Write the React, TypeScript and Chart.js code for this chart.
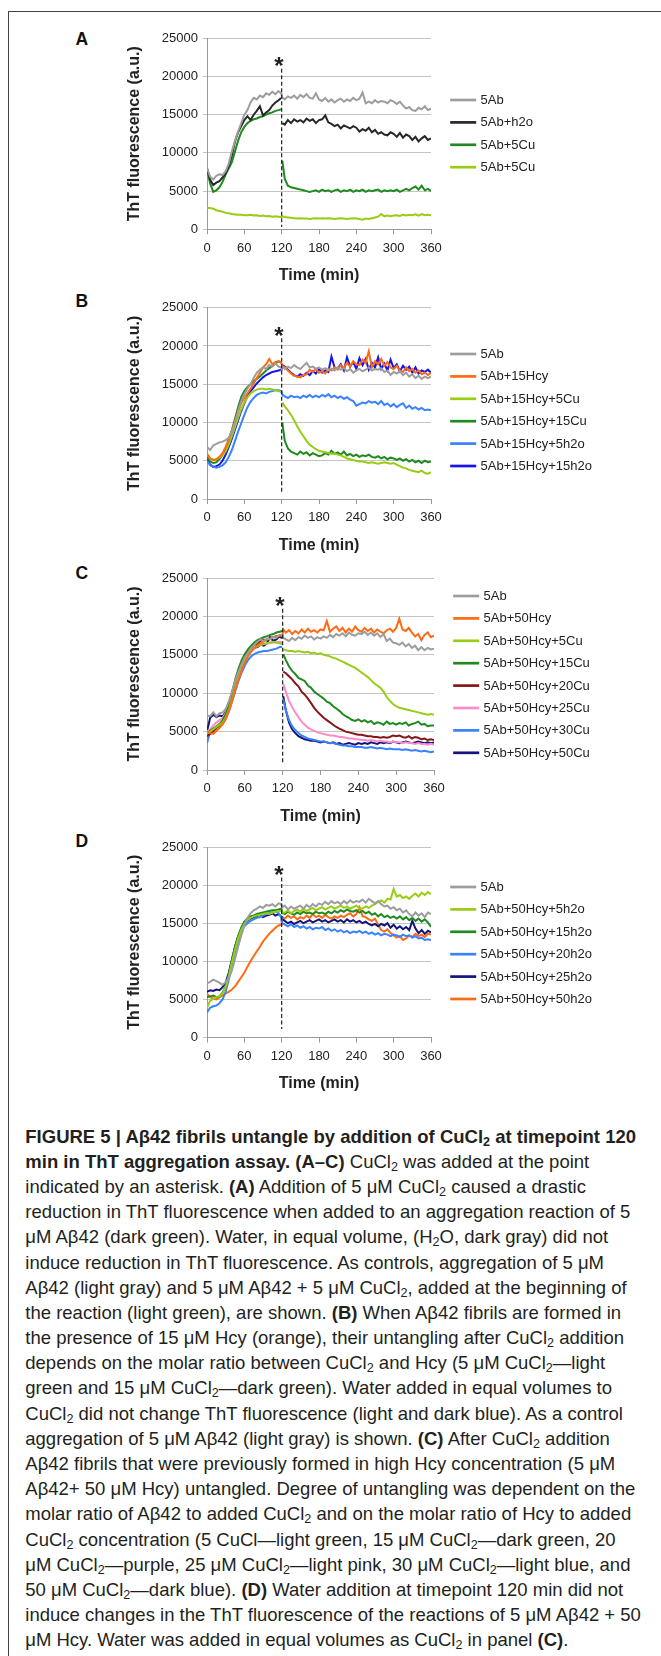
import React, { useEffect, useRef } from "react";
import { Chart, registerables } from "chart.js";

Chart.register(...registerables);

const FONT = "'Liberation Sans', Arial, Helvetica, sans-serif";
Chart.defaults.font.family = FONT;

// ---------- data ----------
const TIME = [0, 5, 10, 15, 20, 25, 30, 35, 40, 45, 50, 55, 60, 65, 70, 75, 80, 85, 90, 95, 100, 105, 110, 115,
  119, 120, 121,
  125, 130, 135, 140, 145, 150, 155, 160, 165, 170, 175, 180,
  185, 190, 195, 200, 205, 210, 215, 220, 225, 230, 235, 240,
  245, 250, 255, 260, 265, 270, 275, 280, 285, 290, 295, 300,
  305, 310, 315, 320, 325, 330, 335, 340, 345, 350, 355, 360];

const X_TICKS = [0, 60, 120, 180, 240, 300, 360];
const X_TICK_LABELS = ["0", "60", "120", "180", "240", "300", "360"];
const Y_TICKS = [0, 5000, 10000, 15000, 20000, 25000];
const Y_TICK_LABELS = ["0", "5000", "10000", "15000", "20000", "25000"];
const ADD_TIME = 120;
const STAR_VALUE = 22000;
const DASH_TOP = 21000;

// Panel A
const A_5AB = [8000, 6900, 6500, 7000, 7200, 7100, 7600, 8600, 10200, 11600, 12800, 13900, 15000, 15600, 16600, 17200, 17000, 17500, 17300, 17800, 17600, 18000, 17700, 18100,
  17800, 17600, 17300,
  17000, 17400, 17200, 17500, 17100, 17600, 17300, 17700, 17200, 17100, 17800, 17000,
  16800, 17200, 16700, 17000, 16600, 16900, 17100, 16700, 17000, 16800, 17200, 16900,
  17100, 17900, 16500, 16700, 16500, 16900, 16600, 16800, 16700, 16500, 16900, 16700,
  16400, 16700, 16200, 15800, 16000, 15600, 15500, 15900, 15700, 16100, 15600, 15800];
const A_H2O = [8000, 6500, 5800, 6100, 6300, 6800, 7300, 8300, 9700, 11500, 12700, 13500, 14300, 14800, 14300, 15000, 15500, 16100, 14900, 15300, 15600, 16200, 16600, 16900,
  17200, null, 13900,
  13700, 14300, 13900, 14400, 14100, 14300, 14000, 14500, 14200, 14400, 13900, 14300,
  14400, 14900, 14000, 13800, 13500, 13700, 13200, 13600, 13400, 13200, 13500, 13300,
  12800, 13100, 12900, 13300, 12700, 13000, 12500, 12700, 12400, 12300, 12700, 12500,
  12100, 12600, 12000, 12400, 12200, 11700, 12100, 11500, 11900, 12200, 11700, 11900];
const A_5CU = [7900, 6000, 4900, 5100, 5500, 6200, 7200, 8000, 8800, 10200, 11600, 12700, 13400, 13900, 14200, 14400, 14500, 14700, 14800, 15000, 15200, 15300, 15500, 15600,
  15700, null, 9000,
  6600, 5700, 5500, 5400, 5300, 5200, 5100, 5000, 4900, 5000, 5100, 4900,
  5200, 5000, 5100, 4900, 5100, 5200, 4900, 5100, 5000, 5200, 4900, 5100,
  5000, 5200, 4900, 5100, 5000, 5100, 5200, 4900, 5100, 5000, 5100, 5000,
  5200, 4900, 5100, 5300, 5100, 5400, 5600, 5200, 5700, 5100, 5300, 5000];
const A_5CU_START = [2800, 2800, 2700, 2500, 2400, 2300, 2150, 2100, 2000, 1950, 1900, 1900, 1850, 1850, 1900, 1800, 1850, 1750, 1800, 1700, 1750, 1650, 1700, 1650,
  1600, 1650, 1700,
  1600, 1550, 1500, 1450, 1400, 1450, 1400, 1400, 1350, 1400, 1450, 1400,
  1450, 1400, 1450, 1400, 1350, 1400, 1450, 1400, 1350, 1400, 1450, 1400,
  1350, 1250, 1400, 1350, 1450, 1550, 1650, 2000, 1700, 1800, 1700, 1800,
  1850, 1750, 1900, 1800, 1900, 1850, 1950, 1800, 2000, 1850, 1900, 1850];

// Panel B
const B_5AB = [6800, 6400, 7000, 7200, 7400, 7500, 7700, 8000, 8800, 10000, 11500, 12800, 13700, 14400, 15000, 15800, 16500, 16900, 17200, 17000, 17500, 17300, 17700, 17300,
  17200, 17100, 17300,
  17000, 17300, 17100, 17500, 17200, 17000, 17400, 17800, 17200, 17300, 17000, 17200,
  16900, 17100, 16800, 17000, 16800, 17200, 16900, 17100, 16700, 17000, 16500, 16800,
  17000, 16700, 16900, 17200, 16800, 17000, 16900, 17100, 16600, 16800, 16200, 16600,
  16400, 16700, 16200, 16500, 16000, 16300, 15800, 16100, 15700, 16000, 15800, 16000];
const B_15HCY = [5900, 5300, 5100, 5200, 5500, 6000, 6800, 7800, 8900, 10200, 11400, 12500, 13200, 13800, 14400, 15100, 15800, 16500, 17200, 17600, 18300, 17600, 17900, 18000,
  17800, 17600, 17400,
  17200, 16800, 16400, 16100, 16000, 15900, 16200, 16300, 16900, 16600, 17000, 16500,
  16700, 16400, 17000, 16800, 17200, 16900, 17500, 17100, 17800, 17300, 18000, 17600,
  17500, 18200, 17800, 19300, 17200, 18000, 17600, 18300, 17400, 17900, 17200, 17000,
  17400, 16800, 16600, 17200, 16700, 17000, 16500, 16800, 16300, 16500, 16200, 16500];
const B_5CU = [5900, 5300, 5100, 5200, 5400, 5700, 6200, 7100, 8200, 9400, 10600, 11700, 12600, 13300, 13800, 14100, 14300, 14400, 14400, 14300, 14400, 14300, 14200, 14100,
  14000, null, 12600,
  12100, 11600, 11000, 10300, 9500, 8800, 8200, 7600, 7100, 6800, 6500, 6300,
  6200, 6100, 6000, 5900, 5900, 5800, 5700, 5500, 5300, 5200, 5100, 5000,
  4900, 4900, 4800, 4700, 4800, 4700, 4600, 4700, 4800, 4700, 4600, 4700,
  4500, 4300, 4100, 4000, 3800, 3700, 3600, 3500, 3700, 3400, 3300, 3500];
const B_15CU = [5500, 4900, 4700, 4800, 5200, 5800, 6600, 7800, 9000, 10500, 12000, 13300, 14100, 14600, 15000, 15400, 15700, 16000, 16400, 16800, 17100, 17400, 17700, 18000,
  17900, null, 10000,
  7600, 6600, 6200, 6000, 5800, 6200, 5900, 6100, 5700, 6000, 5800, 5600,
  5700, 6000, 5800, 6300, 5900, 6100, 5800, 6200, 5700, 5900, 5600, 5800,
  5500, 5700, 5600, 5800, 5500, 5400, 5600, 5300, 5500, 5200, 5400, 5300,
  5100, 5300, 5000, 5200, 4900, 5100, 4800, 5000, 4700, 5000, 4800, 4900];
const B_5H2O = [5000, 4400, 4200, 4100, 4200, 4400, 4800, 5500, 6400, 7600, 8800, 9900, 11000, 12000, 12700, 13200, 13600, 13800, 13900, 13800, 14000, 14100, 14200, 14200,
  14100, 13900, 13700,
  13400, 13200, 13500, 13300, 13400, 13200, 13500, 13300, 13600, 13300, 13500, 13300,
  13600, 13400, 13700, 13300, 13500, 13200, 13400, 13100, 13300, 13000, 12800, 12200,
  12400, 12600, 12500, 12800, 12600, 12700, 12400, 12800, 12300, 12500, 12100, 12400,
  12000, 12300, 12500, 11900, 12200, 11800, 12000, 11700, 11900, 11600, 11700, 11600];
const B_15H2O = [5400, 4500, 4200, 4300, 4500, 5000, 5800, 6800, 7900, 9100, 10300, 11500, 12500, 13400, 14100, 14600, 15100, 15500, 15900, 16200, 16400, 16600, 16700, 16800,
  16900, 17200, 17500,
  17300, 16900, 16500, 16200, 16000, 16300, 16100, 16500, 16200, 16700, 16400, 17000,
  16500, 16800, 16600, 18600, 17200, 17000, 17600, 16800, 18500, 17300, 17900, 17000,
  18400, 17500, 18300, 16900, 17800, 17200, 18500, 17000, 17700, 16800, 18200, 17100,
  17600, 16700, 17400, 16900, 17300, 16500, 17200, 16400, 16800, 16600, 16900, 16500];

// Panel C
const C_5AB = [7100, 7000, 7500, 7000, 7400, 7500, 8000, 9000, 10300, 11600, 12800, 13800, 14700, 15300, 15900, 16300, 16700, 17000, 16800, 17100, 17000, 17300, 17200, 17600,
  17500, 17400, 17200,
  17000, 16800, 17200, 16900, 17300, 17100, 17500, 17200, 17400, 17000, 17300, 17100,
  17400, 17200, 17600, 17300, 17700, 17500, 17800, 17400, 17900, 17600, 17500, 17800,
  17700, 18000, 17600, 17900, 17500, 17800, 17300, 17700, 16800, 17100, 16600, 16500,
  16300, 16600, 16100, 16400, 15900, 16200, 15600, 16000, 15600, 15900, 15700, 15800];
const C_50HCY = [5000, 4800, 4700, 5100, 5500, 6000, 6700, 7800, 9000, 10500, 11800, 13000, 14000, 14800, 15400, 15900, 16200, 16500, 16700, 17000, 17100, 17300, 17400, 17500,
  17600, 17800, 18300,
  17900, 18200, 17700, 18100, 17800, 18300, 17900, 18400, 18000, 18200, 17900, 18300,
  18200, 19400, 18000, 18400, 18700, 18100, 18500, 17900, 18400, 18000, 18700, 18200,
  18000, 18500, 18100, 18400, 17900, 18300, 18000, 17800, 18200, 18400, 18000, 18500,
  19700, 18300, 18100, 18500, 17900, 17400, 17700, 16900, 17600, 17900, 17300, 17500];
const C_5CU = [4800, 5000, 5300, 5600, 5900, 6200, 6900, 8000, 9300, 10800, 12200, 13400, 14400, 15100, 15600, 15900, 16100, 16300, 16400, 16500, 16600, 16700, 16600, 16500,
  16400, null, 15700,
  15600, 15500, 15500, 15400, 15500, 15400, 15300, 15400, 15200, 15300, 15100, 15200,
  15000, 14900, 14800, 14600, 14500, 14300, 14100, 13900, 13700, 13500, 13300, 13000,
  12700, 12400, 12100, 11700, 11300, 11000, 10700, 10200, 9500, 9000, 8600, 8300,
  8100, 8000, 7900, 7800, 7700, 7600, 7500, 7400, 7300, 7200, 7300, 7200];
const C_15CU = [4800, 5100, 5400, 5700, 6000, 6500, 7300, 8700, 10200, 11800, 13200, 14300, 15100, 15700, 16200, 16600, 16900, 17100, 17300, 17400, 17600, 17700, 17900, 18000,
  18100, null, 15100,
  14300, 13500, 12900, 12500, 12000, 11800, 11600, 11000, 10700, 10200, 9900, 9600,
  9300, 8900, 8700, 8300, 8000, 7700, 7300, 7000, 6800, 6500, 6400, 6600,
  6300, 6500, 6200, 6400, 6000, 6200, 6100, 5900, 6300, 6000, 6100, 5900,
  6100, 6000, 6200, 5800, 6000, 6100, 6300, 5900, 6000, 5700, 5800, 5800];
const C_20CU = [4400, 4700, 5000, 5500, 5800, 6200, 7000, 8300, 9800, 11400, 12800, 13900, 14800, 15400, 15900, 16300, 16500, 16800, 17000, 16900, 17200, 17300, 17400, 17300,
  17200, null, 12800,
  12600, 12200, 11800, 11300, 10900, 10200, 9800, 9300, 8700, 8100, 7600, 7200,
  6800, 6500, 6200, 5900, 5600, 5400, 5200, 5000, 4900, 4800, 4700, 4600,
  4600, 4500, 4400, 4400, 4300, 4300, 4200, 4300, 4200, 4300, 4500, 4400,
  4500, 4300, 4200, 4400, 4100, 4300, 4200, 4000, 4100, 3900, 4000, 3900];
const C_25CU = [5000, 5300, 5800, 6200, 6500, 6800, 7500, 8800, 10200, 11700, 13000, 14000, 14800, 15300, 15700, 16000, 16200, 16300, 16400, 16500, 16500, 16600, 16600, 16700,
  16600, null, 11200,
  10200, 9000, 8200, 7500, 6900, 6300, 5900, 5500, 5300, 5100, 4900, 4800,
  4700, 4600, 4500, 4500, 4400, 4300, 4300, 4200, 4100, 4100, 4000, 4000,
  3900, 3900, 3800, 3900, 3800, 3700, 3800, 3700, 3700, 3600, 3700, 3600,
  3600, 3500, 3600, 3500, 3500, 3400, 3500, 3400, 3400, 3300, 3400, 3300];
const C_30CU = [3500, 5000, 5300, 5500, 5700, 6000, 6700, 7700, 9000, 10300, 11600, 12700, 13600, 14300, 14800, 15100, 15300, 15400, 15500, 15500, 15600, 15700, 15800, 16000,
  16000, null, 9200,
  7800, 6500, 5700, 5200, 4800, 4500, 4300, 4100, 4000, 3900, 3800, 3700,
  3700, 3600, 3500, 3500, 3400, 3300, 3200, 3200, 3100, 3100, 3000, 3000,
  3000, 2900, 2900, 3000, 2900, 2800, 2900, 2800, 2700, 2800, 2700, 2700,
  2700, 2600, 2700, 2600, 2500, 2600, 2500, 2400, 2500, 2400, 2300, 2400];
const C_50CU = [5000, 6800, 7200, 6900, 7100, 7000, 7600, 8500, 9700, 11000, 12300, 13400, 14300, 15000, 15500, 15900, 16000, 16300, 16200, 16500, 17300, 16800, 17000, 17400,
  17200, null, 9600,
  7800, 6200, 5300, 4800, 4400, 4200, 4000, 3900, 3800, 3800, 3700, 3600,
  3700, 3600, 3500, 3600, 3400, 3500, 3300, 3400, 3500, 3400, 3300, 3500,
  3400, 3500, 3400, 3600, 3500, 3400, 3600, 3500, 3600, 3500, 3700, 3600,
  3500, 3600, 3700, 3600, 3500, 3600, 3700, 3600, 3500, 3600, 3500, 3600];

// Panel D
const D_5AB = [7100, 7300, 7600, 7400, 7200, 6900, 7300, 7800, 8800, 10300, 11900, 13400, 14700, 15700, 16300, 16700, 16900, 17200, 17000, 17400, 17300, 17500, 17200, 17600,
  17500, 17300, 17100,
  17300, 16800, 17200, 16900, 17100, 17300, 16900, 17400, 17100, 17500, 17200, 17600,
  17400, 17800, 17500, 17900, 17600, 17800, 17500, 17900, 17600, 18000, 17700, 17900,
  17800, 18100, 17700, 18200, 17900, 17600, 17900, 17500, 17200, 17300, 16900, 17100,
  16700, 16900, 16400, 16700, 16200, 15900, 16400, 16000, 16300, 15800, 16400, 16200];
const D_5H2O = [3900, 4800, 5100, 5300, 5400, 5800, 6600, 8000, 9800, 11500, 13000, 14100, 14900, 15400, 15700, 15900, 16000, 16100, 16200, 16300, 16200, 16400, 16500, 16600,
  16600, 16500, 16400,
  16400, 16700, 16300, 16600, 16800, 16500, 16900, 16600, 16800, 17000, 16700, 16900,
  17100, 16800, 17000, 17200, 16900, 17100, 17300, 17000, 17200, 16900, 17100, 17300,
  17000, 16900, 17200, 17000, 17300, 17500, 17800, 18000, 17700, 18200, 18100, 19500,
  18500, 18700, 18300, 18500, 18200, 18600, 18900, 18500, 19000, 18700, 19100, 18800];
const D_15H2O = [5300, 5400, 5500, 5300, 5400, 5900, 6700, 8300, 10100, 11900, 13300, 14400, 15200, 15600, 15900, 16000, 16200, 16300, 16400, 16500, 16600, 16700, 16700, 16800,
  16900, 16700, 16400,
  16200, 16500, 16300, 16100, 16400, 16200, 16500, 16300, 16400, 16200, 16500, 16300,
  16400, 16200, 16500, 16300, 16600, 16400, 16700, 16500, 16800, 16600, 16500, 16700,
  16400, 16600, 16300, 16500, 16100, 16300, 15900, 16200, 15800, 16000, 15700, 15900,
  15600, 15900, 15500, 15800, 15400, 15700, 15300, 15600, 15200, 15500, 15100, 14500];
const D_20H2O = [3300, 3900, 4100, 4200, 4500, 5000, 6000, 7600, 9400, 11200, 12700, 13800, 14600, 15000, 15300, 15500, 15700, 15800, 16000, 16200, 16300, 16400, 16600, 16300,
  15800, 15300, 15000,
  14800, 14600, 14900, 14500, 14700, 14400, 14600, 14300, 14500, 14200, 14400, 14300,
  14500, 14100, 14300, 14000, 14200, 13900, 14100, 13800, 14000, 13700, 13900, 13800,
  14000, 13700, 13900, 13600, 13800, 13500, 13700, 13400, 13600, 13500, 13300, 13500,
  13400, 13200, 13500, 13300, 13400, 13100, 13300, 13000, 13100, 12800, 12900, 12800];
const D_25H2O = [6000, 6200, 6100, 6300, 6200, 6600, 7200, 8500, 10200, 11900, 13200, 14200, 14900, 15300, 15600, 15800, 15900, 16100, 15800, 16000, 16100, 16300, 16000, 16200,
  15900, 15700, 15500,
  15300, 15000, 15200, 14900, 15100, 15300, 15000, 15200, 15400, 15100, 15300, 15500,
  15200, 15400, 15100, 15300, 15500, 15200, 15400, 15100, 15500, 15200, 15400, 15100,
  15300, 15000, 15200, 14900, 14700, 14900, 14600, 14900, 14700, 15000, 14400, 14800,
  14300, 14600, 14200, 14500, 14100, 15300, 14300, 13700, 14100, 13600, 14000, 13800];
const D_50H2O = [5700, 5300, 5100, 5000, 5300, 5500, 5800, 6000, 6300, 6700, 7300, 7900, 8500, 9300, 10000, 10700, 11300, 11900, 12600, 13100, 13600, 14000, 14400, 14700,
  14800, 15300, 15800,
  15600, 16000, 15700, 15900, 15500, 15800, 15600, 16000, 15700, 16200, 15800, 16000,
  15700, 16100, 15800, 15600, 15900, 15700, 16000, 15800, 16100, 16300, 15900, 16200,
  17100, 15900, 15800, 15500, 15300, 15600, 14800, 14100, 13900, 14200, 13700, 13400,
  13100, 13300, 12800, 13000, 13400, 13200, 13600, 13300, 13500, 13200, 13600, 13500];

// ---------- colours ----------
const GRAY = "#9d9d9d";
const BLACK = "#262626";
const DKGREEN = "#1f8a1f";
const LTGREEN = "#99cc14";
const ORANGE = "#ff6a13";
const LTBLUE = "#3a82ff";
const BLUE = "#1414ee";
const NAVY = "#14147a";
const MAROON = "#841818";
const PINK = "#ff8cc8";

type Series = { label: string; color: string; data: (number | null)[] };
type PanelCfg = {
  letter: string; letterY: number; top: number; bottom: number; right: number;
  legendX: number; legendY: number; dashBottom: number; series: Series[];
};

const PANELS: PanelCfg[] = [
  {
    letter: "A", letterY: 39.5, top: 38.3, bottom: 229.3, right: 431, legendX: 450.2, legendY: 100, dashBottom: 300,
    series: [
      { label: "5Ab", color: GRAY, data: A_5AB },
      { label: "5Ab+h2o", color: BLACK, data: A_H2O },
      { label: "5Ab+5Cu", color: DKGREEN, data: A_5CU },
      { label: "5Ab+5Cu", color: LTGREEN, data: A_5CU_START },
    ],
  },
  {
    letter: "B", letterY: 301.7, top: 307.7, bottom: 499, right: 431, legendX: 450.2, legendY: 354, dashBottom: 950,
    series: [
      { label: "5Ab", color: GRAY, data: B_5AB },
      { label: "5Ab+15Hcy", color: ORANGE, data: B_15HCY },
      { label: "5Ab+15Hcy+5Cu", color: LTGREEN, data: B_5CU },
      { label: "5Ab+15Hcy+15Cu", color: DKGREEN, data: B_15CU },
      { label: "5Ab+15Hcy+5h2o", color: LTBLUE, data: B_5H2O },
      { label: "5Ab+15Hcy+15h2o", color: BLUE, data: B_15H2O },
    ],
  },
  {
    letter: "C", letterY: 573.3, top: 578, bottom: 770, right: 434, legendX: 453.2, legendY: 596, dashBottom: 950,
    series: [
      { label: "5Ab", color: GRAY, data: C_5AB },
      { label: "5Ab+50Hcy", color: ORANGE, data: C_50HCY },
      { label: "5Ab+50Hcy+5Cu", color: LTGREEN, data: C_5CU },
      { label: "5Ab+50Hcy+15Cu", color: DKGREEN, data: C_15CU },
      { label: "5Ab+50Hcy+20Cu", color: MAROON, data: C_20CU },
      { label: "5Ab+50Hcy+25Cu", color: PINK, data: C_25CU },
      { label: "5Ab+50Hcy+30Cu", color: LTBLUE, data: C_30CU },
      { label: "5Ab+50Hcy+50Cu", color: NAVY, data: C_50CU },
    ],
  },
  {
    letter: "D", letterY: 841.7, top: 847, bottom: 1037.5, right: 431, legendX: 450.2, legendY: 887, dashBottom: 1100,
    series: [
      { label: "5Ab", color: GRAY, data: D_5AB },
      { label: "5Ab+50Hcy+5h2o", color: LTGREEN, data: D_5H2O },
      { label: "5Ab+50Hcy+15h2o", color: DKGREEN, data: D_15H2O },
      { label: "5Ab+50Hcy+20h2o", color: LTBLUE, data: D_20H2O },
      { label: "5Ab+50Hcy+25h2o", color: NAVY, data: D_25H2O },
      { label: "5Ab+50Hcy+50h2o", color: ORANGE, data: D_50H2O },
    ],
  },
];

const PLOT_LEFT = 207;
const TITLE_LEFT = 125.4;
const X_AXIS_H = 56;
const LEGEND_STEP = 22.4;

function Panel({ cfg }: { cfg: PanelCfg }) {
  const ref = useRef<HTMLCanvasElement | null>(null);
  const canvasTop = Math.floor(cfg.top) - 20;
  const height = Math.ceil(cfg.bottom) + 60 - canvasTop;

  useEffect(() => {
    const canvas = ref.current;
    if (!canvas) return;
    const padTop = cfg.top - canvasTop;
    const padBottom = height - X_AXIS_H - (cfg.bottom - canvasTop);

    const overlay = {
      id: "overlay" + cfg.letter,
      afterDatasetsDraw(chart: any) {
        const ctx = chart.ctx;
        const xs = chart.scales.x;
        const ys = chart.scales.y;
        const x = xs.getPixelForValue(ADD_TIME);
        ctx.save();
        ctx.strokeStyle = "#222";
        ctx.lineWidth = 1.2;
        ctx.setLineDash([4, 2.5]);
        ctx.beginPath();
        ctx.moveTo(x, ys.getPixelForValue(DASH_TOP));
        ctx.lineTo(x, ys.getPixelForValue(cfg.dashBottom));
        ctx.stroke();
        ctx.setLineDash([]);
        ctx.fillStyle = "#222";
        ctx.font = `bold 24px ${FONT}`;
        ctx.textAlign = "center";
        ctx.textBaseline = "alphabetic";
        ctx.fillText("*", x - 2.7, ys.getPixelForValue(STAR_VALUE) + 13.2);

        ctx.font = `13px ${FONT}`;
        ctx.textAlign = "left";
        ctx.textBaseline = "middle";
        chart.data.datasets.forEach((ds: any, i: number) => {
          const y = cfg.legendY - canvasTop + i * LEGEND_STEP;
          ctx.strokeStyle = ds.borderColor;
          ctx.lineWidth = 2.7;
          ctx.beginPath();
          ctx.moveTo(cfg.legendX, y);
          ctx.lineTo(cfg.legendX + 26, y);
          ctx.stroke();
          ctx.fillStyle = "#222";
          ctx.fillText(ds.label, cfg.legendX + 30.4, y + 0.5);
        });
        ctx.restore();
      },
    };

    const chart = new Chart(canvas, {
      type: "line",
      data: {
        datasets: cfg.series.map((s) => ({
          label: s.label,
          data: TIME.map((t, i) => ({ x: t, y: s.data[i] })),
          borderColor: s.color,
          backgroundColor: s.color,
          borderWidth: 2,
          pointRadius: 0,
          tension: 0,
          spanGaps: false,
          fill: false,
        })),
      },
      options: {
        responsive: false,
        animation: false,
        devicePixelRatio: 1,
        events: [],
        layout: { padding: { left: TITLE_LEFT, top: padTop, right: 661 - cfg.right, bottom: padBottom } },
        plugins: { legend: { display: false }, tooltip: { enabled: false } },
        scales: {
          x: {
            type: "linear",
            min: 0,
            max: 360,
            afterBuildTicks: (s: any) => { s.ticks = X_TICKS.map((v) => ({ value: v })); },
            afterFit: (s: any) => { s.height = X_AXIS_H; },
            ticks: {
              font: { size: 13 }, color: "#222", padding: 6, maxRotation: 0, autoSkip: false,
              callback: (_v: any, i: number) => X_TICK_LABELS[i],
            },
            grid: { drawOnChartArea: false, drawTicks: true, tickLength: 5, color: "#999" },
            border: { display: true, color: "#999", width: 1 },
            title: { display: true, text: "Time (min)", font: { size: 16, weight: "bold" }, color: "#222", padding: 0 },
          },
          y: {
            min: 0,
            max: 25000,
            afterBuildTicks: (s: any) => { s.ticks = Y_TICKS.map((v) => ({ value: v })); },
            afterFit: (s: any) => { s.width = PLOT_LEFT - TITLE_LEFT; },
            ticks: {
              font: { size: 13 }, color: "#222", padding: 5,
              callback: (_v: any, i: number) => Y_TICK_LABELS[i],
            },
            grid: { color: "#c4c4c4", drawTicks: true, tickLength: 4 },
            border: { display: true, color: "#999", width: 1 },
            title: { display: true, text: "ThT fluorescence (a.u.)", font: { size: 16, weight: "bold" }, color: "#222", padding: 0 },
          },
        },
      } as any,
      plugins: [overlay],
    });
    return () => chart.destroy();
  }, []);

  return (
    <>
      <div
        style={{
          position: "absolute", left: 75.5, top: cfg.letterY - 8.55, fontFamily: FONT,
          fontWeight: "bold", fontSize: 17.5, lineHeight: "17.5px", color: "#111",
        }}
      >
        {cfg.letter}
      </div>
      <canvas
        ref={ref}
        width={661}
        height={height}
        style={{ position: "absolute", left: 0, top: canvasTop, width: 661, height }}
      />
    </>
  );
}

const subStyle: React.CSSProperties = { fontSize: "0.68em", verticalAlign: "-0.22em", lineHeight: 0 };
const S = () => <sub style={subStyle}>2</sub>;

const CAPTION_LINES: React.ReactNode[] = [
  <b>FIGURE 5 | Aβ42 fibrils untangle by addition of CuCl<S /> at timepoint 120</b>,
  <><b>min in ThT aggregation assay. (A–C)</b> CuCl<S /> was added at the point</>,
  <>indicated by an asterisk. <b>(A)</b> Addition of 5 μM CuCl<S /> caused a drastic</>,
  <>reduction in ThT fluorescence when added to an aggregation reaction of 5</>,
  <>μM Aβ42 (dark green). Water, in equal volume, (H<S />O, dark gray) did not</>,
  <>induce reduction in ThT fluorescence. As controls, aggregation of 5 μM</>,
  <>Aβ42 (light gray) and 5 μM Aβ42 + 5 μM CuCl<S />, added at the beginning of</>,
  <>the reaction (light green), are shown. <b>(B)</b> When Aβ42 fibrils are formed in</>,
  <>the presence of 15 μM Hcy (orange), their untangling after CuCl<S /> addition</>,
  <>depends on the molar ratio between CuCl<S /> and Hcy (5 μM CuCl<S />—light</>,
  <>green and 15 μM CuCl<S />—dark green). Water added in equal volumes to</>,
  <>CuCl<S /> did not change ThT fluorescence (light and dark blue). As a control</>,
  <>aggregation of 5 μM Aβ42 (light gray) is shown. <b>(C)</b> After CuCl<S /> addition</>,
  <>Aβ42 fibrils that were previously formed in high Hcy concentration (5 μM</>,
  <>Aβ42+ 50 μM Hcy) untangled. Degree of untangling was dependent on the</>,
  <>molar ratio of Aβ42 to added CuCl<S /> and on the molar ratio of Hcy to added</>,
  <>CuCl<S /> concentration (5 CuCl—light green, 15 μM CuCl<S />—dark green, 20</>,
  <>μM CuCl<S />—purple, 25 μM CuCl<S />—light pink, 30 μM CuCl<S />—light blue, and</>,
  <>50 μM CuCl<S />—dark blue). <b>(D)</b> Water addition at timepoint 120 min did not</>,
  <>induce changes in the ThT fluorescence of the reactions of 5 μM Aβ42 + 50</>,
  <>μM Hcy. Water was added in equal volumes as CuCl<S /> in panel <b>(C)</b>.</>,
];

function Caption() {
  return (
    <div
      style={{
        position: "absolute", left: 25.3, top: 1123.6, fontFamily: FONT, fontSize: 18.5,
        color: "#231f20", lineHeight: "25.2px",
      }}
    >
      {CAPTION_LINES.map((l, i) => (
        <div key={i} style={{ whiteSpace: "nowrap", height: 25.2 }}>{l}</div>
      ))}
    </div>
  );
}

export default function App() {
  return (
    <div
      style={{
        position: "absolute", left: 0, top: 0, width: 661, height: 1656, overflow: "hidden",
        background: "#fff",
      }}
    >
      <div
        style={{
          position: "absolute", left: 8, top: 10.5, width: 700, height: 1700,
          borderLeft: "1px solid #444", borderTop: "1px solid #444",
        }}
      />
      {PANELS.map((p) => (
        <Panel key={p.letter} cfg={p} />
      ))}
      <Caption />
    </div>
  );
}
